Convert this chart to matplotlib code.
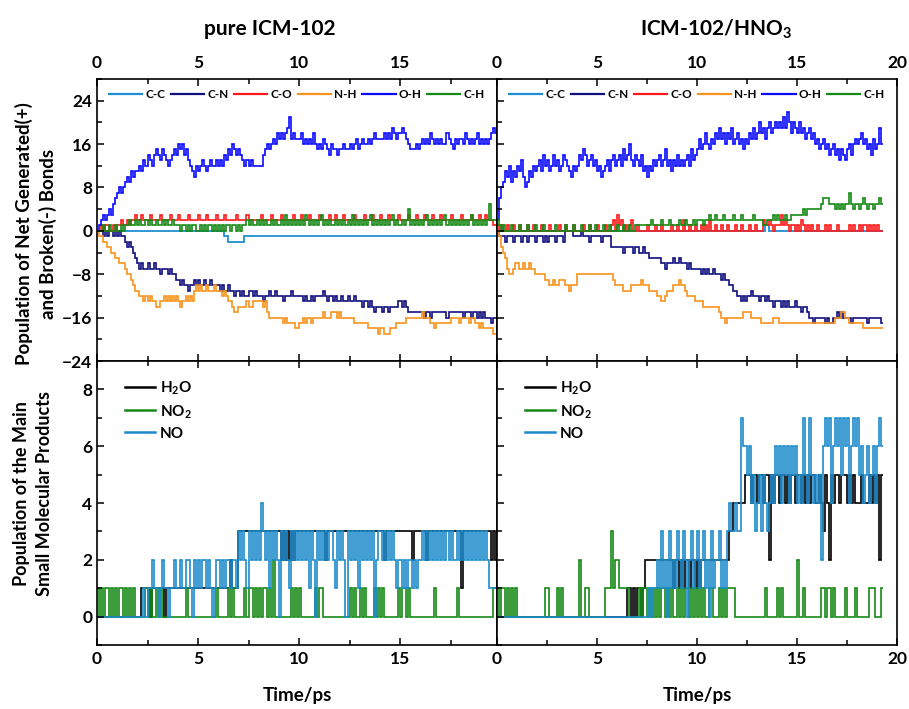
import numpy as np
import matplotlib
matplotlib.use("Agg")
import matplotlib.pyplot as plt
from matplotlib.ticker import MultipleLocator

plt.rcParams['font.family'] = ['Lato', 'DejaVu Sans']
plt.rcParams['font.weight'] = 'bold'
plt.rcParams['mathtext.fontset'] = 'custom'
plt.rcParams['mathtext.rm'] = 'Lato:bold'
plt.rcParams['mathtext.bf'] = 'Lato:bold'

# sampling step of the read-off series (ps)
DT = 0.1

# ---- pure ICM-102, bonds (one value per 0.1 ps, 0 -> 19.8 ps) ----
oh_left = [0, 1, 2, 3, 2, 3, 4, 3, 5, 6, 7, 8, 7, 8, 9, 10, 9, 11, 10, 11,
           11, 12, 11, 13, 12, 14, 13, 12, 14, 15, 14, 13, 15, 14, 13, 12, 13, 14, 15, 14,
           16, 15, 16, 14, 15, 13, 12, 11, 10, 12, 11, 12, 13, 12, 11, 12, 13, 12, 12, 13,
           12, 13, 12, 14, 13, 15, 14, 16, 15, 14, 15, 14, 13, 12, 13, 12, 13, 12, 12, 12,
           12, 12, 14, 15, 16, 15, 16, 17, 16, 18, 17, 18, 17, 18, 19, 21, 17, 18, 17, 17,
           17, 18, 16, 17, 16, 17, 16, 18, 16, 15, 16, 15, 17, 16, 15, 14, 16, 15, 15, 14,
           15, 15, 16, 15, 15, 16, 15, 16, 17, 15, 16, 17, 16, 16, 17, 16, 17, 18, 17, 17,
           17, 17, 18, 17, 18, 17, 19, 18, 17, 18, 18, 19, 18, 17, 16, 15, 15, 15, 16, 15,
           16, 17, 16, 17, 16, 18, 17, 16, 17, 16, 17, 16, 16, 18, 17, 16, 15, 17, 16, 17,
           17, 16, 18, 17, 16, 17, 16, 17, 18, 16, 17, 16, 17, 16, 17, 18, 19, 18]
cn_left = [0, 0, 0, -1, 0, -1, 0, 0, -1, 0, -1, 0, -1, -1, -2, -3, -2, -3, -4, -5,
           -6, -7, -6, -7, -7, -6, -7, -7, -6, -7, -7, -8, -7, -7, -7, -8, -7, -8, -8, -9,
           -9, -10, -9, -10, -10, -11, -10, -10, -9, -10, -9, -10, -10, -9, -10, -10, -9, -10, -10, -10,
           -10, -11, -10, -11, -11, -10, -11, -11, -12, -11, -11, -12, -11, -12, -12, -11, -11, -12, -11, -12,
           -12, -12, -13, -12, -12, -11, -12, -12, -11, -12, -12, -12, -13, -12, -12, -12, -11, -12, -12, -12,
           -12, -12, -13, -12, -13, -13, -12, -13, -12, -12, -12, -12, -11, -12, -13, -12, -12, -13, -12, -13,
           -13, -12, -13, -13, -12, -13, -13, -12, -13, -13, -13, -14, -13, -13, -14, -13, -14, -15, -14, -14,
           -14, -15, -14, -14, -15, -14, -14, -14, -14, -13, -13, -14, -13, -14, -15, -15, -15, -15, -15, -15,
           -15, -15, -16, -15, -15, -16, -15, -15, -15, -15, -15, -15, -15, -16, -15, -15, -15, -15, -15, -15,
           -15, -16, -15, -15, -15, -16, -15, -15, -16, -15, -16, -15, -16, -16, -16, -17, -16, -16]
nh_left = [0, -1, -1, -2, -2, -3, -3, -4, -4, -5, -5, -6, -6, -6, -7, -8, -8, -9, -10, -11,
           -11, -12, -12, -13, -12, -13, -12, -13, -13, -14, -14, -13, -13, -12, -13, -12, -13, -12, -13, -12,
           -13, -14, -13, -13, -12, -13, -12, -13, -11, -10, -11, -10, -11, -11, -10, -11, -11, -11, -10, -11,
           -11, -11, -12, -11, -12, -13, -13, -14, -15, -15, -14, -14, -14, -14, -13, -14, -14, -13, -13, -13,
           -13, -13, -14, -13, -15, -16, -16, -16, -16, -16, -16, -16, -17, -16, -17, -17, -17, -17, -18, -18,
           -17, -17, -16, -17, -16, -16, -17, -16, -16, -16, -16, -16, -15, -16, -16, -16, -15, -15, -15, -16,
           -15, -16, -16, -16, -16, -16, -16, -17, -17, -17, -17, -17, -17, -17, -18, -18, -18, -18, -18, -19,
           -18, -18, -19, -19, -19, -18, -18, -18, -17, -17, -17, -17, -17, -16, -16, -16, -16, -16, -16, -16,
           -16, -15, -16, -16, -16, -17, -17, -18, -17, -17, -17, -17, -17, -17, -17, -16, -16, -16, -16, -17,
           -16, -16, -16, -16, -17, -16, -16, -17, -17, -18, -17, -18, -18, -18, -18, -18, -19, -19]
co_left = [0, 0, 1, 0, 1, 1, 0, 0, 1, 0, 1, 1, 2, 1, 1, 2, 1, 2, 2, 3,
           2, 2, 3, 2, 2, 2, 3, 2, 2, 2, 2, 3, 2, 2, 2, 2, 3, 2, 2, 2,
           3, 2, 2, 2, 2, 3, 2, 2, 2, 2, 3, 2, 2, 2, 3, 2, 2, 2, 2, 3,
           2, 2, 2, 3, 2, 2, 2, 2, 2, 3, 2, 2, 2, 2, 3, 2, 2, 2, 2, 2,
           2, 3, 2, 2, 2, 2, 3, 2, 2, 2, 2, 3, 2, 2, 2, 2, 2, 3, 2, 2,
           2, 3, 2, 2, 2, 3, 2, 2, 2, 2, 3, 2, 2, 2, 2, 3, 2, 2, 3, 2,
           2, 2, 3, 2, 2, 2, 2, 3, 2, 2, 2, 2, 3, 2, 2, 2, 3, 2, 2, 2,
           3, 2, 2, 2, 3, 2, 2, 2, 2, 3, 2, 2, 2, 2, 3, 2, 2, 2, 3, 2,
           2, 2, 3, 2, 2, 2, 3, 2, 2, 2, 3, 2, 2, 2, 2, 3, 2, 2, 2, 2,
           3, 2, 2, 2, 2, 3, 2, 2, 2, 3, 2, 2, 3, 2, 2, 2, 1, 1]
ch_left = [0, 0, 0, 1, 0, 0, 1, 0, 0, 1, 0, 0, 1, 0, 1, 1, 2, 1, 1, 2,
           1, 2, 1, 1, 2, 1, 2, 1, 1, 2, 1, 1, 2, 1, 2, 1, 1, 2, 1, 1,
           1, 0, 1, 1, 0, 1, 0, 1, 1, 0, 0, 1, 0, 1, 0, 1, 1, 0, 1, 0,
           1, 0, 1, 0, 1, 1, 0, 1, 1, 0, 1, 0, 1, 1, 2, 1, 2, 1, 1, 2,
           1, 2, 1, 2, 1, 1, 2, 1, 2, 1, 1, 2, 1, 3, 1, 2, 1, 2, 1, 2,
           1, 2, 1, 3, 2, 1, 2, 1, 2, 1, 2, 3, 1, 2, 1, 2, 1, 1, 2, 1,
           2, 1, 2, 1, 2, 1, 3, 1, 2, 1, 2, 1, 2, 1, 2, 3, 1, 2, 1, 2,
           1, 2, 1, 2, 1, 2, 3, 1, 2, 1, 1, 2, 1, 2, 4, 1, 2, 1, 2, 1,
           2, 1, 2, 3, 1, 2, 1, 2, 1, 2, 1, 2, 3, 1, 2, 1, 2, 1, 2, 1,
           2, 1, 2, 1, 2, 3, 1, 2, 1, 2, 1, 2, 1, 2, 5, 2, 2, 2]
# C-C changes rarely: step edges (ps) and levels
cc_left_t = [0, 6.3, 6.5, 7.3, 19.8]
cc_left_v = [0, -1, -2, -1]

# ---- ICM-102/HNO3, bonds (one value per 0.1 ps, 0 -> 19.3 ps) ----
oh_right = [2, 6, 8, 9, 11, 10, 12, 9, 11, 10, 12, 11, 13, 10, 8, 9, 11, 10, 12, 11,
            12, 13, 11, 14, 12, 13, 11, 12, 14, 12, 13, 11, 12, 14, 13, 12, 11, 10, 12, 11,
            12, 14, 13, 15, 14, 12, 13, 14, 12, 13, 11, 12, 10, 11, 12, 13, 11, 13, 14, 12,
            13, 14, 12, 15, 13, 14, 16, 13, 12, 14, 13, 12, 14, 11, 12, 10, 12, 11, 13, 12,
            13, 14, 12, 13, 15, 12, 13, 11, 13, 12, 14, 12, 13, 12, 13, 14, 12, 15, 13, 14,
            15, 17, 15, 16, 18, 16, 15, 17, 16, 18, 17, 19, 17, 18, 16, 18, 17, 19, 16, 17,
            18, 16, 17, 15, 17, 16, 18, 17, 19, 17, 18, 20, 18, 19, 17, 19, 20, 18, 19, 20,
            19, 20, 19, 21, 19, 22, 20, 18, 20, 19, 18, 20, 18, 19, 17, 18, 19, 17, 18, 16,
            17, 15, 16, 17, 15, 16, 14, 15, 16, 14, 15, 13, 15, 14, 13, 15, 16, 14, 16, 17,
            16, 17, 18, 16, 17, 15, 16, 14, 17, 15, 16, 19, 16]
cn_right = [0, -1, -1, -1, -2, -1, -1, -1, -2, -1, -1, -1, -2, -1, -1, -2, -1, -1, -1, -2,
            -1, -1, -1, -2, -1, -2, -1, -1, -1, -2, -1, -1, -1, -2, 0, 0, 0, 0, -1, -1,
            -1, -1, 0, -1, -1, -1, -2, -1, -1, -1, -1, -1, -2, -1, -1, -1, -1, -3, -3, -3,
            -3, -3, -3, -4, -3, -3, -3, -3, -4, -3, -3, -4, -4, -3, -4, -4, -5, -5, -5, -5,
            -5, -5, -6, -6, -7, -6, -6, -6, -5, -6, -6, -5, -6, -6, -6, -7, -6, -7, -7, -7,
            -7, -7, -8, -7, -8, -7, -8, -8, -7, -8, -8, -8, -9, -8, -9, -9, -10, -10, -11, -11,
            -12, -12, -13, -12, -13, -12, -12, -11, -12, -12, -12, -13, -12, -12, -13, -12, -13, -13, -14, -13,
            -13, -13, -14, -13, -14, -13, -14, -14, -14, -13, -14, -14, -15, -14, -14, -15, -16, -16, -17, -16,
            -16, -16, -16, -16, -17, -16, -17, -17, -16, -16, -15, -16, -15, -16, -16, -16, -16, -17, -16, -16,
            -16, -16, -16, -16, -16, -17, -16, -16, -16, -16, -16, -16, -17]
nh_right = [0, -1, -3, -4, -5, -7, -8, -8, -7, -6, -6, -7, -7, -6, -7, -7, -6, -7, -7, -8,
            -8, -8, -8, -8, -9, -9, -10, -10, -9, -10, -10, -9, -9, -9, -10, -10, -11, -10, -10, -10,
            -8, -8, -8, -8, -8, -8, -8, -8, -8, -8, -8, -8, -8, -8, -8, -8, -8, -8, -9, -10,
            -10, -10, -10, -11, -11, -11, -11, -10, -10, -10, -10, -10, -9, -10, -10, -10, -11, -11, -11, -11,
            -12, -12, -13, -13, -12, -11, -11, -11, -10, -10, -10, -9, -10, -10, -11, -12, -12, -12, -12, -13,
            -13, -13, -13, -14, -14, -14, -14, -14, -14, -14, -14, -15, -16, -16, -17, -16, -16, -16, -16, -16,
            -16, -16, -16, -15, -15, -15, -15, -16, -16, -16, -16, -16, -17, -17, -17, -17, -17, -17, -16, -16,
            -16, -17, -17, -17, -17, -17, -17, -17, -17, -17, -17, -17, -17, -17, -17, -17, -17, -17, -17, -17,
            -17, -17, -17, -17, -17, -17, -17, -17, -17, -16, -16, -16, -15, -15, -16, -16, -17, -17, -17, -17,
            -17, -17, -17, -18, -18, -18, -18, -18, -18, -18, -18, -18, -18]
co_right = [1, 0, 1, 0, 0, 1, 0, 0, 1, 0, 0, 1, 0, 0, 0, 1, 0, 0, 1, 0,
            0, 0, 1, 0, 0, 0, 1, 0, 0, 0, 0, 1, 0, 0, 1, 0, 0, 0, 1, 0,
            0, 0, 0, 1, 0, 0, 1, 0, 0, 0, 1, 0, 0, 0, 1, 0, 0, 1, 2, 0,
            3, 1, 2, 0, 1, 0, 1, 2, 0, 0, 1, 0, 0, 0, 0, 1, 0, 0, 0, 1,
            0, 0, 1, 0, 0, 0, 0, 1, 0, 0, 1, 0, 0, 2, 0, 0, 1, 0, 0, 1,
            0, 0, 1, 0, 1, 0, 2, 0, 0, 1, 0, 0, 1, 0, 0, 1, 0, 0, 0, 1,
            0, 0, 1, 0, 0, 0, 1, 0, 0, 1, 0, 0, 0, 2, 1, 1, 2, 1, 0, 1,
            1, 1, 3, 1, 2, 1, 0, 1, 1, 0, 1, 0, 2, 1, 0, 1, 0, 1, 0, 0,
            1, 0, 0, 0, 1, 0, 1, 0, 0, 0, 1, 0, 0, 0, 0, 0, 1, 0, 1, 0,
            0, 1, 0, 1, 1, 0, 1, 0, 1, 0, 1, 0, 0]
ch_right = [2, 1, 0, 1, 0, 0, 0, 1, 0, 0, 0, 1, 0, 0, 0, 1, 0, 0, 0, 1,
            0, 0, 0, 1, 0, 0, 0, 0, 0, 1, 0, 0, 0, 0, 1, 0, 0, 0, 1, 0,
            0, 0, 1, 0, 0, 0, 1, 0, 0, 1, 0, 0, 0, 1, 0, 0, 1, 0, 0, 0,
            1, 0, 0, 1, 0, 0, 1, 0, 0, 1, 1, 1, 1, 1, 1, 1, 1, 2, 1, 1,
            1, 1, 2, 1, 1, 1, 2, 1, 1, 1, 1, 2, 1, 1, 2, 1, 1, 1, 2, 1,
            2, 2, 2, 1, 2, 2, 3, 2, 2, 3, 2, 2, 2, 3, 2, 2, 2, 2, 3, 2,
            2, 2, 3, 2, 2, 2, 2, 2, 3, 2, 2, 2, 2, 1, 1, 2, 2, 2, 3, 2,
            3, 2, 2, 2, 3, 2, 2, 3, 3, 3, 3, 3, 3, 4, 3, 4, 4, 4, 4, 4,
            4, 4, 5, 6, 6, 6, 5, 5, 5, 4, 5, 4, 5, 4, 5, 5, 7, 5, 4, 5,
            5, 4, 5, 6, 5, 4, 5, 5, 4, 5, 5, 6, 5]
cc_right_t = [0, 13.4, 13.6, 19.3]
cc_right_v = [0, 1, 0]

# ---- pure ICM-102, small molecules (0.1 ps, 0 -> 19.8 ps) ----
h2o_left = [0, 0, 0, 0, 0, 0, 0, 0, 0, 0, 0, 0, 0, 0, 0, 0, 0, 0, 0, 0,
            0, 0, 1, 1, 1, 1, 0, 1, 1, 1, 1, 1, 1, 0, 1, 1, 1, 1, 1, 1,
            1, 1, 1, 1, 1, 1, 1, 1, 1, 1, 1, 1, 1, 1, 1, 1, 1, 1, 1, 1,
            1, 1, 1, 1, 1, 1, 2, 1, 1, 1, 3, 3, 3, 3, 3, 3, 3, 3, 3, 3,
            3, 3, 3, 3, 3, 3, 3, 3, 3, 3, 3, 2, 3, 2, 3, 2, 3, 2, 3, 3,
            3, 3, 3, 3, 3, 3, 3, 3, 3, 3, 3, 3, 3, 2, 3, 3, 3, 3, 3, 3,
            3, 3, 3, 3, 3, 3, 3, 3, 3, 3, 3, 3, 3, 3, 3, 3, 3, 3, 3, 3,
            3, 3, 2, 3, 3, 3, 3, 3, 3, 3, 3, 3, 3, 3, 3, 3, 2, 3, 3, 3,
            3, 3, 3, 2, 3, 3, 3, 3, 3, 3, 3, 3, 3, 3, 3, 3, 3, 3, 3, 3,
            1, 3, 3, 3, 3, 3, 3, 3, 3, 3, 3, 3, 3, 3, 3, 2, 3, 2]
no2_left = [1, 0, 1, 0, 1, 1, 0, 1, 0, 1, 0, 1, 1, 0, 1, 0, 1, 0, 1, 0,
            0, 0, 0, 0, 1, 0, 1, 0, 0, 1, 0, 1, 0, 0, 0, 0, 0, 0, 0, 0,
            0, 0, 0, 0, 1, 0, 0, 0, 0, 0, 0, 0, 0, 0, 0, 0, 0, 0, 0, 1,
            0, 0, 0, 0, 0, 1, 0, 1, 0, 0, 0, 0, 0, 1, 0, 1, 1, 0, 1, 0,
            1, 0, 1, 1, 0, 1, 0, 2, 0, 0, 0, 0, 0, 0, 0, 0, 1, 0, 1, 0,
            1, 0, 0, 0, 0, 0, 0, 0, 1, 0, 1, 1, 0, 0, 0, 0, 0, 0, 0, 0,
            0, 0, 0, 0, 0, 1, 0, 1, 0, 0, 1, 0, 1, 0, 0, 0, 0, 1, 0, 1,
            0, 1, 0, 0, 0, 0, 0, 0, 0, 1, 0, 1, 1, 0, 1, 0, 0, 0, 0, 0,
            0, 0, 0, 0, 0, 0, 0, 1, 0, 0, 0, 0, 0, 0, 0, 0, 0, 0, 1, 0,
            0, 0, 0, 0, 0, 0, 0, 0, 0, 0, 0, 0, 0, 0, 0, 0, 1, 1]
no_left = [0, 0, 0, 0, 0, 0, 0, 0, 0, 0, 0, 0, 0, 0, 0, 0, 0, 0, 0, 0,
           0, 0, 0, 1, 0, 1, 1, 2, 1, 1, 0, 1, 2, 1, 1, 0, 1, 1, 2, 1,
           1, 2, 1, 1, 2, 2, 1, 0, 2, 1, 2, 1, 2, 2, 1, 2, 1, 0, 1, 2,
           2, 1, 2, 1, 2, 2, 1, 2, 2, 1, 3, 2, 3, 2, 1, 3, 2, 3, 2, 3,
           2, 4, 3, 2, 3, 1, 3, 2, 3, 2, 0, 3, 2, 3, 2, 1, 3, 2, 3, 2,
           3, 2, 3, 2, 3, 1, 3, 2, 0, 3, 2, 3, 2, 3, 2, 3, 3, 2, 1, 3,
           2, 3, 2, 0, 3, 2, 3, 2, 3, 1, 3, 2, 3, 2, 3, 2, 3, 0, 2, 3,
           3, 2, 3, 2, 3, 2, 3, 2, 1, 2, 2, 1, 2, 1, 2, 2, 1, 2, 1, 2,
           2, 3, 2, 3, 2, 3, 2, 3, 2, 3, 2, 3, 2, 3, 2, 3, 2, 2, 3, 2,
           3, 2, 3, 2, 3, 2, 3, 2, 3, 2, 3, 2, 3, 2, 1, 1, 1, 1]

# ---- ICM-102/HNO3, small molecules (0.1 ps, 0 -> 19.3 ps) ----
h2o_right = [0, 0, 0, 0, 0, 0, 0, 0, 0, 0, 0, 0, 0, 0, 0, 0, 0, 0, 0, 0,
             0, 0, 0, 0, 0, 0, 0, 0, 0, 0, 0, 0, 0, 0, 0, 0, 0, 0, 0, 0,
             0, 0, 0, 0, 0, 0, 0, 0, 0, 0, 0, 0, 0, 0, 0, 0, 0, 0, 0, 0,
             0, 0, 0, 0, 0, 1, 1, 0, 1, 0, 1, 1, 0, 1, 2, 2, 2, 2, 2, 2,
             2, 2, 2, 2, 2, 2, 2, 2, 1, 2, 2, 1, 2, 1, 2, 2, 1, 2, 2, 1,
             2, 1, 2, 2, 2, 2, 2, 2, 2, 2, 2, 2, 2, 2, 2, 2, 3, 3, 4, 4,
             4, 4, 4, 4, 5, 5, 5, 4, 5, 5, 4, 5, 5, 4, 5, 5, 2, 5, 4, 5,
             5, 4, 5, 5, 4, 5, 4, 5, 5, 4, 5, 5, 4, 5, 4, 5, 4, 5, 5, 4,
             4, 5, 4, 3, 5, 4, 2, 5, 4, 5, 5, 4, 5, 5, 5, 4, 5, 4, 5, 4,
             4, 4, 5, 4, 4, 4, 5, 4, 5, 4, 5, 2, 5]
no2_right = [1, 0, 1, 1, 0, 1, 0, 1, 0, 1, 0, 0, 0, 0, 0, 0, 0, 0, 0, 0,
             0, 0, 0, 0, 1, 1, 0, 0, 0, 0, 1, 0, 1, 0, 0, 0, 0, 0, 0, 0,
             0, 2, 0, 0, 1, 1, 0, 0, 0, 0, 0, 0, 0, 0, 1, 1, 1, 3, 1, 2,
             2, 1, 1, 1, 1, 1, 0, 0, 0, 0, 0, 1, 0, 1, 1, 0, 1, 0, 1, 0,
             1, 0, 1, 1, 0, 1, 0, 1, 0, 0, 1, 0, 1, 0, 1, 1, 0, 1, 0, 1,
             0, 1, 0, 1, 0, 0, 1, 1, 0, 0, 0, 1, 0, 1, 0, 1, 1, 1, 1, 0,
             0, 0, 0, 0, 0, 0, 0, 0, 0, 0, 0, 0, 0, 0, 1, 0, 0, 0, 0, 0,
             1, 0, 1, 0, 0, 0, 0, 0, 0, 0, 2, 0, 0, 1, 0, 0, 0, 0, 0, 0,
             0, 0, 1, 1, 0, 1, 1, 0, 1, 0, 0, 0, 0, 0, 1, 0, 0, 0, 0, 1,
             0, 0, 0, 0, 0, 0, 1, 1, 1, 0, 0, 0, 1]
no_right = [0, 0, 0, 0, 0, 0, 0, 0, 0, 0, 0, 0, 0, 0, 0, 0, 0, 0, 0, 0,
            0, 0, 0, 0, 0, 0, 0, 0, 0, 0, 0, 0, 0, 0, 0, 0, 0, 0, 0, 0,
            0, 0, 0, 0, 0, 0, 0, 0, 0, 0, 0, 0, 0, 0, 0, 0, 0, 0, 0, 0,
            0, 0, 0, 0, 0, 0, 0, 0, 0, 0, 0, 0, 0, 0, 0, 0, 1, 0, 1, 1,
            2, 1, 3, 1, 2, 0, 3, 1, 2, 1, 3, 2, 1, 3, 2, 0, 2, 3, 1, 2,
            3, 1, 2, 3, 1, 2, 0, 3, 1, 2, 2, 3, 1, 2, 1, 3, 4, 3, 3, 4,
            3, 3, 7, 6, 6, 5, 6, 4, 5, 3, 4, 5, 3, 5, 4, 3, 4, 5, 4, 6,
            5, 6, 4, 6, 5, 6, 4, 6, 5, 6, 4, 5, 4, 7, 5, 4, 7, 5, 4, 5,
            4, 5, 2, 6, 7, 6, 7, 4, 6, 7, 6, 7, 5, 7, 6, 7, 4, 6, 7, 6,
            7, 5, 6, 4, 5, 6, 4, 5, 6, 4, 6, 7, 6]

bond_labels = ['C-C', 'C-N', 'C-O', 'N-H', 'O-H', 'C-H']
bond_colors = ['#1f8fd0', '#10107f', '#ff1a1a', '#f7941d', '#0a0aff', '#168a16']
mol_labels = [r'H$_\mathbf{2}$O', r'NO$_\mathbf{2}$', 'NO']
mol_colors = ['#000000', '#168a16', '#1c8bcb']
titles = ['pure ICM-102', r'ICM-102/HNO$_\mathbf{3}$']


def edges(vals):
    return np.arange(len(vals) + 1) * DT


def style(ax, xmax, ymin, ymax, ymaj, ymin_step, left_labels, top_labels, bottom_labels):
    ax.set_xlim(0, xmax)
    ax.set_ylim(ymin, ymax)
    ax.xaxis.set_major_locator(MultipleLocator(5))
    ax.xaxis.set_minor_locator(MultipleLocator(2.5))
    ax.yaxis.set_major_locator(MultipleLocator(ymaj))
    ax.yaxis.set_minor_locator(MultipleLocator(ymin_step))
    ax.tick_params(which='both', direction='in', top=True, bottom=True, left=True, right=False,
                   labeltop=top_labels, labelbottom=bottom_labels, labelleft=left_labels,
                   width=1.1, labelsize=12.5)
    ax.tick_params(which='major', length=5)
    ax.tick_params(which='minor', length=3.5)
    ax.tick_params(axis='x', which='major', pad=6 if top_labels else 4)
    for s in ax.spines.values():
        s.set_linewidth(1.2)


fig = plt.figure(figsize=(9.09, 7.09), dpi=100)
x0, xm, x1 = 97 / 909, 497 / 909, 897 / 909
y_top, y_mid, y_bot = 1 - 79 / 709, 1 - 361 / 709, 1 - 645 / 709
w = xm - x0

ax_tl = fig.add_axes([x0, y_mid, w, y_top - y_mid])
ax_tr = fig.add_axes([xm, y_mid, x1 - xm, y_top - y_mid])
ax_bl = fig.add_axes([x0, y_bot, w, y_mid - y_bot])
ax_br = fig.add_axes([xm, y_bot, x1 - xm, y_mid - y_bot])

# bond panels
for ax, cc_t, cc_v, series in [
        (ax_tl, cc_left_t, cc_left_v, [cn_left, co_left, nh_left, oh_left, ch_left]),
        (ax_tr, cc_right_t, cc_right_v, [cn_right, co_right, nh_right, oh_right, ch_right])]:
    ax.stairs(cc_v, cc_t, baseline=None, color=bond_colors[0], lw=1.3, label=bond_labels[0])
    for vals, lab, col in zip(series, bond_labels[1:], bond_colors[1:]):
        ax.stairs(vals, edges(vals), baseline=None, color=col, lw=1.2, label=lab)
    leg = ax.legend(loc='upper center', bbox_to_anchor=(0.5, 0.995), ncol=6, frameon=False,
                    fontsize=8.5, handlelength=2.8, handletextpad=0.25, columnspacing=0.5,
                    borderaxespad=0.3)
    for h in leg.legend_handles:
        h.set_linewidth(1.6)

# molecule panels
for ax, series in [(ax_bl, [h2o_left, no2_left, no_left]),
                   (ax_br, [h2o_right, no2_right, no_right])]:
    for vals, lab, col in zip(series, mol_labels, mol_colors):
        ax.stairs(vals, edges(vals), baseline=None, color=col, lw=1.2, label=lab)
    leg = ax.legend(loc='upper left', bbox_to_anchor=(0.035, 0.985), frameon=False,
                    fontsize=11, handlelength=2.0, handletextpad=0.3, labelspacing=0.4)
    for h in leg.legend_handles:
        h.set_linewidth(1.8)

style(ax_tl, 19.8, -24, 28, 8, 4, True, True, False)
style(ax_tr, 20, -24, 28, 8, 4, False, True, False)
style(ax_bl, 19.8, -1, 9, 2, 1, True, False, True)
style(ax_br, 20, -1, 9, 2, 1, False, False, True)

cx_left = (x0 + xm) / 2
cx_right = (xm + x1) / 2
fig.text(270 / 909, 1 - 29 / 709, titles[0], ha='center', va='center', fontsize=15)
fig.text(716 / 909, 1 - 29 / 709, titles[1], ha='center', va='center', fontsize=15)
fig.text(cx_left, 1 - 696 / 709, 'Time/ps', ha='center', va='center', fontsize=13.5)
fig.text(cx_right, 1 - 696 / 709, 'Time/ps', ha='center', va='center', fontsize=13.5)
fig.text(36 / 909, 1 - 234 / 709, 'Population of Net Generated(+)\nand Broken(-) Bonds',
         rotation=90, ha='center', va='center', fontsize=13.5, linespacing=1.4)
fig.text(33 / 909, 1 - 494 / 709, 'Population of the Main\nSmall Molecular Products',
         rotation=90, ha='center', va='center', fontsize=13, linespacing=1.4)

fig.savefig('out.png', dpi=100)
